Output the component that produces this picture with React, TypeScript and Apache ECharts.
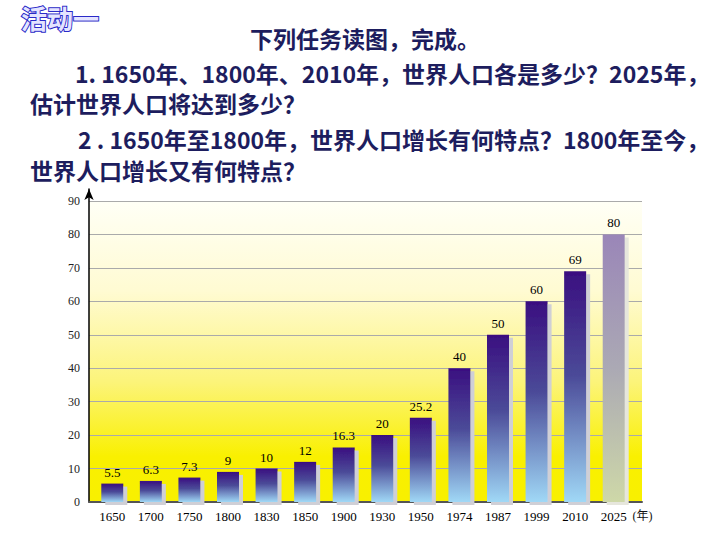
import React, { useEffect, useRef } from "react";
import * as echarts from "echarts";

const years = ["1650", "1700", "1750", "1800", "1830", "1850", "1900", "1930", "1950", "1974", "1987", "1999", "2010", "2025"];
const population = [5.5, 6.3, 7.3, 9, 10, 12, 16.3, 20, 25.2, 40, 50, 60, 69, 80];
const projectedYear = "2025";
const yMin = 0;
const yMax = 90;
const yInterval = 10;
const xUnit = "(年)";

const badge = "活动一";
const heading = "下列任务读图，完成。";
const questionLines = [
  "1. 1650年、1800年、2010年，世界人口各是多少？2025年，",
  "估计世界人口将达到多少？",
  "2 . 1650年至1800年，世界人口增长有何特点？1800年至今，",
  "世界人口增长又有何特点？",
];

const CJK = '"Noto Sans CJK SC", "Noto Sans", sans-serif';
const SERIF = '"Liberation Serif", "DejaVu Serif", "Noto Sans CJK SC", serif';
const NAVY = "#1d1d5e";

export default function App() {
  const ref = useRef<HTMLDivElement>(null);

  useEffect(() => {
    const chart = echarts.init(ref.current!, null, { renderer: "svg" });

    const barGradient = new echarts.graphic.LinearGradient(0, 0, 0, 1, [
      { offset: 0, color: "#3a0f80" },
      { offset: 0.45, color: "#4b4a98" },
      { offset: 1, color: "#a0d8f6" },
    ]);
    const projGradient = new echarts.graphic.LinearGradient(0, 0, 0, 1, [
      { offset: 0, color: "#9a86b8" },
      { offset: 0.5, color: "#aba9b4" },
      { offset: 1, color: "#ced8a8" },
    ]);
    const bgGradient = new echarts.graphic.LinearGradient(0, 0, 0, 1, [
      { offset: 0, color: "#fffff6" },
      { offset: 0.3, color: "#fffbd2" },
      { offset: 0.6, color: "#fcf47a" },
      { offset: 0.85, color: "#f9f000" },
      { offset: 1, color: "#f8f000" },
    ]);

    const barData = population.map((v, i) =>
      years[i] === projectedYear
        ? { value: v, itemStyle: { color: projGradient, shadowColor: "#e6e6dc" } }
        : { value: v }
    );

    const textLines = [
      { text: heading, x: 250, y: 38 },
      { text: questionLines[0], x: 75, y: 73 },
      { text: questionLines[1], x: 30, y: 103 },
      { text: questionLines[2], x: 78, y: 139 },
      { text: questionLines[3], x: 30, y: 170 },
    ];

    chart.setOption({
      animation: false,
      backgroundColor: "#ffffff",
      grid: [
        { left: 89, right: 78, top: 201, bottom: 38, show: true, backgroundColor: bgGradient, borderWidth: 0 },
        { left: 93, right: 87, top: 201, bottom: 38 },
        { left: 89, right: 78, top: 189, bottom: 38 },
      ],
      xAxis: [
        {
          gridIndex: 0,
          type: "value",
          min: 0,
          max: 1,
          axisLine: { show: true, lineStyle: { color: "#555", width: 2 } },
          axisTick: { show: false },
          axisLabel: { show: false },
          splitLine: { show: false },
        },
        {
          gridIndex: 1,
          type: "category",
          data: years,
          axisLine: { show: false },
          axisTick: { show: false },
          axisLabel: { margin: 8, fontFamily: SERIF, fontSize: 13, color: "#000" },
          name: xUnit,
          nameLocation: "end",
          nameGap: -9,
          nameTextStyle: {
            fontFamily: SERIF,
            fontSize: 12,
            color: "#111",
            align: "left",
            verticalAlign: "top",
            padding: [8, 0, 0, 0],
          },
        },
        {
          gridIndex: 2,
          type: "value",
          min: 0,
          max: 1,
          show: false,
        },
      ],
      yAxis: [
        {
          gridIndex: 0,
          type: "value",
          min: yMin,
          max: yMax,
          interval: yInterval,
          axisLine: { show: false },
          axisTick: { show: false },
          axisLabel: { margin: 9, fontFamily: SERIF, fontSize: 12, color: "#222" },
          splitLine: { show: true, lineStyle: { color: "#aaaaaa", width: 1 } },
        },
        {
          gridIndex: 1,
          type: "value",
          min: yMin,
          max: yMax,
          interval: yInterval,
          show: false,
        },
        {
          gridIndex: 2,
          type: "value",
          min: 0,
          max: 1,
          axisLine: {
            show: true,
            symbol: ["none", "arrow"],
            symbolSize: [7, 11],
            lineStyle: { color: "#000", width: 1.5 },
          },
          axisTick: { show: false },
          axisLabel: { show: false },
          splitLine: { show: false },
        },
      ],
      series: [
        {
          type: "bar",
          xAxisIndex: 1,
          yAxisIndex: 1,
          data: barData,
          barWidth: 22,
          itemStyle: {
            color: barGradient,
            shadowColor: "#cfcfd6",
            shadowOffsetX: 4,
            shadowOffsetY: 3,
            shadowBlur: 0,
          },
          label: {
            show: true,
            position: "top",
            distance: 5,
            fontFamily: SERIF,
            fontSize: 13,
            color: "#000",
          },
        },
      ],
      graphic: [
        {
          type: "text",
          x: 21,
          y: 17,
          style: {
            text: badge,
            font: `bold 26px ${CJK}`,
            fill: "#e4e4ff",
            stroke: "#2a2ac8",
            lineWidth: 2,
            verticalAlign: "middle",
            shadowColor: "#7070ff",
            shadowOffsetX: 2,
            shadowOffsetY: 2,
          },
        },
        ...textLines.map((l) => ({
          type: "text",
          x: l.x,
          y: l.y,
          style: {
            text: l.text,
            font: `bold 23px ${CJK}`,
            fill: NAVY,
            verticalAlign: "middle",
          },
        })),
      ],
    });

    return () => chart.dispose();
  }, []);

  return <div ref={ref} style={{ position: "fixed", left: 0, top: 0, width: 720, height: 540 }} />;
}
